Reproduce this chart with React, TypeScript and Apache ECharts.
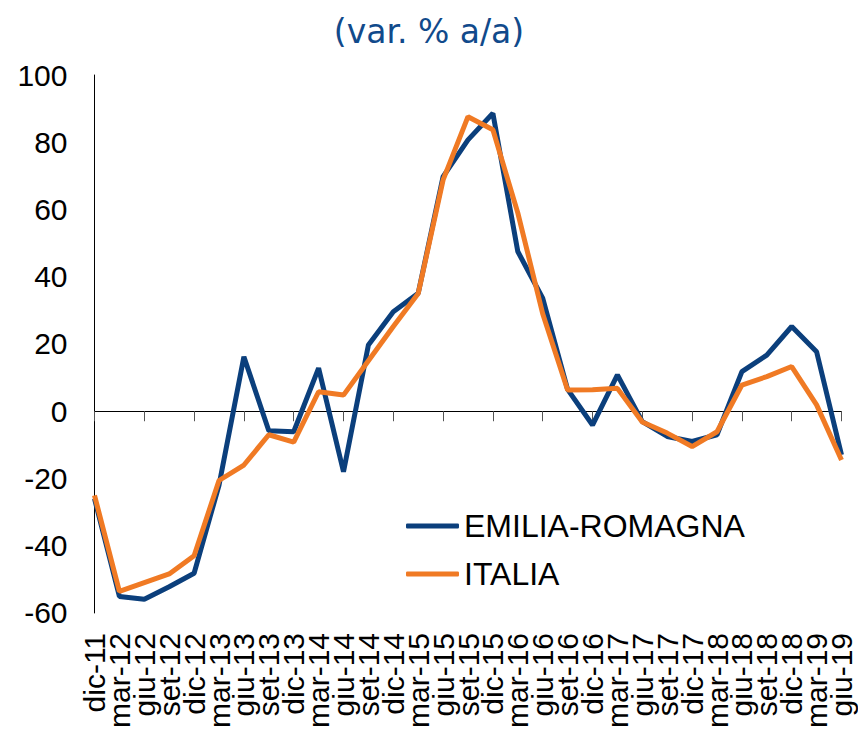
import React, { useEffect, useRef } from "react";
import * as echarts from "echarts";

const categories = [
  "dic-11", "mar-12", "giu-12", "set-12", "dic-12", "mar-13", "giu-13", "set-13",
  "dic-13", "mar-14", "giu-14", "set-14", "dic-14", "mar-15", "giu-15", "set-15",
  "dic-15", "mar-16", "giu-16", "set-16", "dic-16", "mar-17", "giu-17", "set-17",
  "dic-17", "mar-18", "giu-18", "set-18", "dic-18", "mar-19", "giu-19",
];

const emiliaRomagna = [
  -26, -55.1, -55.9, -52.2, -48.2, -22, 16.2, -5.8,
  -6.1, 12.8, -18.0, 19.7, 29.6, 35.1, 69.8, 80.7,
  88.6, 47.5, 33.6, 6.5, -4.1, 10.8, -3.1, -7.5,
  -9.0, -7.0, 11.8, 16.7, 25.2, 17.7, -13,
];

const italia = [
  -25, -53.6, -51.0, -48.4, -43.0, -20.6, -16.0, -7.0,
  -9.2, 5.8, 4.8, 15, 25.2, 35, 68.8, 87.6,
  83.7, 59, 29, 6.3, 6.4, 6.8, -3.2, -6.5,
  -10.5, -6.1, 7.8, 10.3, 13.3, 1.9, -14.5,
];

const yTicks = { min: -60, max: 100, interval: 20 };

const FONT = "'Liberation Sans', Arial, sans-serif";
const BLUE = "#0B3F7C";
const ORANGE = "#F07A24";

export default function App() {
  const ref = useRef<HTMLDivElement>(null);

  useEffect(() => {
    if (!ref.current) return;
    const chart = echarts.init(ref.current, undefined, { renderer: "svg" });
    chart.setOption({
      animation: false,
      backgroundColor: "#ffffff",
      title: {
        text: "(var. % a/a)",
        left: "center",
        top: 10,
        textStyle: {
          fontFamily: "'DejaVu Sans', sans-serif",
          fontSize: 33,
          fontWeight: "normal",
          color: "#114A8B",
        },
      },
      legend: {
        orient: "vertical",
        left: 401,
        top: 505,
        icon: "roundRect",
        itemWidth: 53,
        itemHeight: 5,
        itemGap: 16,
        textStyle: { fontFamily: FONT, fontSize: 32, color: "#000" },
        data: ["EMILIA-ROMAGNA", "ITALIA"],
      },
      grid: { left: 94.5, right: 16.5, top: 75, bottom: 118, containLabel: false },
      xAxis: [
        {
          type: "category",
          data: categories,
          boundaryGap: false,
          axisLine: { onZero: true, lineStyle: { color: "#000", width: 1 } },
          axisTick: { show: true, length: 10, inside: false, lineStyle: { color: "#555" } },
          axisLabel: { show: false },
          splitLine: { show: false },
        },
        {
          type: "category",
          data: categories,
          boundaryGap: false,
          position: "bottom",
          axisLine: { show: false, onZero: false },
          axisTick: { show: false },
          axisLabel: {
            show: true,
            rotate: 90,
            interval: 0,
            margin: 20,
            fontFamily: FONT,
            fontSize: 30,
            color: "#000",
          },
          splitLine: { show: false },
        },
      ],
      yAxis: {
        type: "value",
        min: yTicks.min,
        max: yTicks.max,
        interval: yTicks.interval,
        axisLine: { show: true, lineStyle: { color: "#000", width: 1 } },
        axisTick: { show: false },
        splitLine: { show: false },
        axisLabel: { fontFamily: FONT, fontSize: 30, color: "#000", margin: 27 },
      },
      series: [
        {
          name: "EMILIA-ROMAGNA",
          type: "line",
          xAxisIndex: 0,
          data: emiliaRomagna,
          symbol: "none",
          lineStyle: { color: BLUE, width: 5 },
          itemStyle: { color: BLUE },
          z: 2,
        },
        {
          name: "ITALIA",
          type: "line",
          xAxisIndex: 0,
          data: italia,
          symbol: "none",
          lineStyle: { color: ORANGE, width: 5 },
          itemStyle: { color: ORANGE },
          z: 3,
        },
      ],
    });
    return () => chart.dispose();
  }, []);

  return (
    <div
      ref={ref}
      style={{ position: "fixed", left: 0, top: 0, width: 858, height: 731, background: "#fff" }}
    />
  );
}
